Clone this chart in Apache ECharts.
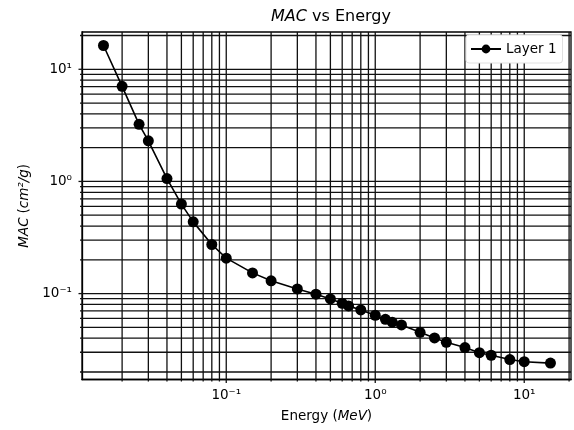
<!DOCTYPE html>
<html>
<head>
<meta charset="utf-8">
<script src="https://cdn.jsdelivr.net/npm/echarts@6/dist/echarts.min.js"></script>
<style>
  html, body { margin: 0; padding: 0; background: #fff; }
  #main { width: 574px; height: 430px; }
</style>
</head>
<body>
<div id="main"></div>
<script>
// data (log-log)
var energy = [0.015, 0.02, 0.026, 0.03, 0.04, 0.05, 0.06, 0.08, 0.1, 0.15, 0.2, 0.3, 0.4, 0.5, 0.6, 0.662,
    0.8, 1.0, 1.17, 1.3, 1.5, 2, 2.5, 3, 4, 5, 6, 8, 10, 15];
var mac = [16.3, 7.05, 3.23, 2.30, 1.06, 0.628, 0.436, 0.274, 0.207, 0.153, 0.130, 0.110, 0.0988, 0.0897, 0.082, 0.0777,
    0.0715, 0.0641, 0.059, 0.0556, 0.0525, 0.0452, 0.0402, 0.0368, 0.033, 0.0297, 0.0282, 0.0258, 0.0247, 0.0240];

// grid / tick positions
var xMajor = [0.1, 1, 10];
var xMinor = [0.02, 0.03, 0.04, 0.05, 0.06, 0.07, 0.08, 0.09, 0.2, 0.3, 0.4, 0.5, 0.6, 0.7, 0.8, 0.9,
    2, 3, 4, 5, 6, 7, 8, 9, 20];
var yMajor = [0.1, 1, 10];
var yMinor = [0.02, 0.03, 0.04, 0.05, 0.06, 0.07, 0.08, 0.09, 0.2, 0.3, 0.4, 0.5, 0.6, 0.7, 0.8, 0.9,
    2, 3, 4, 5, 6, 7, 8, 9, 20];

var FONT = 'DejaVu Sans';
var sup = {'-': '⁻', '0': '⁰', '1': '¹', '2': '²', '3': '³'};
function powLabel(v) {
    var e = String(Math.round(Math.log10(v)));
    return '10' + e.split('').map(function (c) { return sup[c]; }).join('');
}

var myChart = echarts.init(document.getElementById('main'), null, {renderer: 'canvas'});

function gridItem(isX) {
    return function (params, api) {
        var v = api.value(0);
        var major = api.value(1) === 1;
        var cs = params.coordSys;
        var len = major ? 3.5 : 2;
        var st = {stroke: '#111', lineWidth: 1.3};
        if (isX) {
            var x = api.coord([v, 1])[0];
            return {type: 'group', children: [
                {type: 'line', shape: {x1: x, y1: cs.y, x2: x, y2: cs.y + cs.height}, style: st},
                {type: 'line', shape: {x1: x, y1: cs.y + cs.height, x2: x, y2: cs.y + cs.height + len}, style: st}
            ]};
        }
        var y = api.coord([1, v])[1];
        return {type: 'group', children: [
            {type: 'line', shape: {x1: cs.x, y1: y, x2: cs.x + cs.width, y2: y}, style: st},
            {type: 'line', shape: {x1: cs.x - len, y1: y, x2: cs.x, y2: y}, style: st}
        ]};
    };
}

var xTicks = xMajor.map(function (v) { return [v, 1]; }).concat(xMinor.map(function (v) { return [v, 0]; }));
var yTicks = yMajor.map(function (v) { return [v, 1]; }).concat(yMinor.map(function (v) { return [v, 0]; }));

option = {
    animation: false,
    textStyle: {fontFamily: FONT, color: '#000'},
    title: {
        text: '{i|MAC} vs Energy',
        left: 326,
        textAlign: 'center',
        top: 4,
        textStyle: {
            fontFamily: FONT, fontSize: 16, fontWeight: 'normal', color: '#000',
            rich: {i: {fontFamily: FONT, fontSize: 16, fontStyle: 'italic', color: '#000'}}
        }
    },
    legend: {
        data: ['Layer 1'],
        left: 466,
        top: 35,
        itemWidth: 30,
        itemHeight: 11,
        itemGap: 6,
        padding: [7, 6, 7, 4],
        backgroundColor: '#fff',
        borderColor: '#e0e0e0',
        borderWidth: 1,
        borderRadius: 3,
        textStyle: {fontFamily: FONT, fontSize: 13.5, color: '#000'}
    },
    grid: {
        left: 82, right: 3, top: 32, bottom: 50.5,
        show: true, borderColor: '#000', borderWidth: 1.3, containLabel: false
    },
    xAxis: {
        type: 'log',
        logBase: 10,
        min: 0.01076,
        max: 20.6,
        name: '{n|Energy (}{i|MeV}{n|)}',
        nameLocation: 'middle',
        nameGap: 30,
        nameTextStyle: {
            rich: {
                n: {fontFamily: FONT, fontSize: 13.5, color: '#000'},
                i: {fontFamily: FONT, fontSize: 13.5, fontStyle: 'italic', color: '#000'}
            }
        },
        axisLine: {show: true, lineStyle: {color: '#000', width: 1.3}},
        axisTick: {show: false},
        splitLine: {show: false},
        axisLabel: {
            fontFamily: FONT, fontSize: 13.5, color: '#000', margin: 9,
            showMinLabel: false, showMaxLabel: false,
            formatter: function (v) { return powLabel(v); }
        }
    },
    yAxis: {
        type: 'log',
        logBase: 10,
        min: 0.01714,
        max: 21.5,
        name: '{i|MAC} {n|(}{i|cm²/g}{n|)}',
        nameLocation: 'middle',
        nameGap: 50,
        nameTextStyle: {
            rich: {
                n: {fontFamily: FONT, fontSize: 13.5, color: '#000'},
                i: {fontFamily: FONT, fontSize: 13.5, fontStyle: 'italic', color: '#000'}
            }
        },
        axisLine: {show: true, lineStyle: {color: '#000', width: 1.3}},
        axisTick: {show: false},
        splitLine: {show: false},
        axisLabel: {
            fontFamily: FONT, fontSize: 13.5, color: '#000', margin: 10,
            showMinLabel: false, showMaxLabel: false,
            formatter: function (v) { return powLabel(v); }
        }
    },
    series: [
        {
            name: 'xgrid',
            type: 'custom',
            clip: false,
            silent: true,
            z: 1,
            renderItem: gridItem(true),
            encode: {x: 0},
            data: xTicks
        },
        {
            name: 'ygrid',
            type: 'custom',
            clip: false,
            silent: true,
            z: 1,
            renderItem: gridItem(false),
            encode: {y: 0},
            data: yTicks
        },
        {
            name: 'Layer 1',
            type: 'line',
            z: 3,
            data: energy.map(function (e, i) { return [e, mac[i]]; }),
            symbol: 'circle',
            symbolSize: 11,
            showAllSymbol: true,
            itemStyle: {color: '#000'},
            lineStyle: {color: '#000', width: 1.6}
        }
    ]
};

myChart.setOption(option);
</script>
</body>
</html>
